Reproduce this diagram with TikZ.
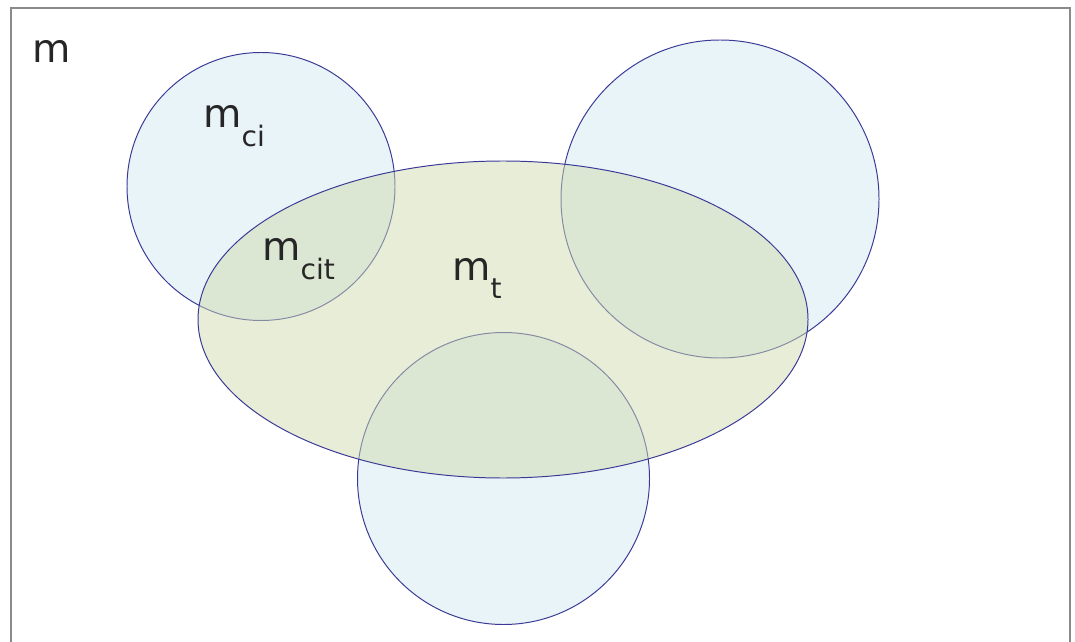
\documentclass[tikz,border=0pt]{standalone}
\usepackage{fontspec}
\setmainfont{DejaVu Sans}
\usetikzlibrary{shapes.geometric}
\definecolor{navy}{HTML}{3A3A96}
\definecolor{framegray}{HTML}{8A8A8A}
\definecolor{circfill}{HTML}{E8F4F7}
\definecolor{ellfill}{HTML}{D1DBB1}
\newcommand{\setsub}[1]{m\raisebox{-13.5pt}{\fontsize{20}{22}\selectfont #1}}
\tikzset{
  venncirc/.style={circle,inner sep=0pt,draw=navy,fill=circfill,line width=0.7pt},
  vennell/.style={ellipse,inner sep=0pt,draw=navy,fill=ellfill,fill opacity=0.5,line width=0.7pt},
  setlabel/.style={font=\fontsize{28}{30}\selectfont,text=black!85,anchor=base west,inner sep=0pt}
}
\begin{document}
\begin{tikzpicture}[x=0.025cm,y=-0.025cm]
\path[use as bounding box] (0,0) rectangle (1075,642);
\draw[framegray,line width=1.4pt] (11,660) -- (11,8) -- (1070,8) -- (1070,660);

% sets
\node[venncirc,minimum size=268*0.025cm] (ci) at (261,186.5) {};
\node[venncirc,minimum size=318*0.025cm] (cr) at (720,199) {};
\node[venncirc,minimum size=292*0.025cm] (cb) at (503.5,478.5) {};
\node[vennell,minimum width=610*0.025cm,minimum height=317*0.025cm] (t) at (503,319.5) {};

% labels
\node[setlabel] (lm) at (32,63) {m};
\node[setlabel] (lci) at (203,128) {\setsub{ci}};
\node[setlabel] (lcit) at (262,261) {\setsub{cit}};
\node[setlabel] (lt) at (452,280) {\setsub{t}};
\end{tikzpicture}
\end{document}
